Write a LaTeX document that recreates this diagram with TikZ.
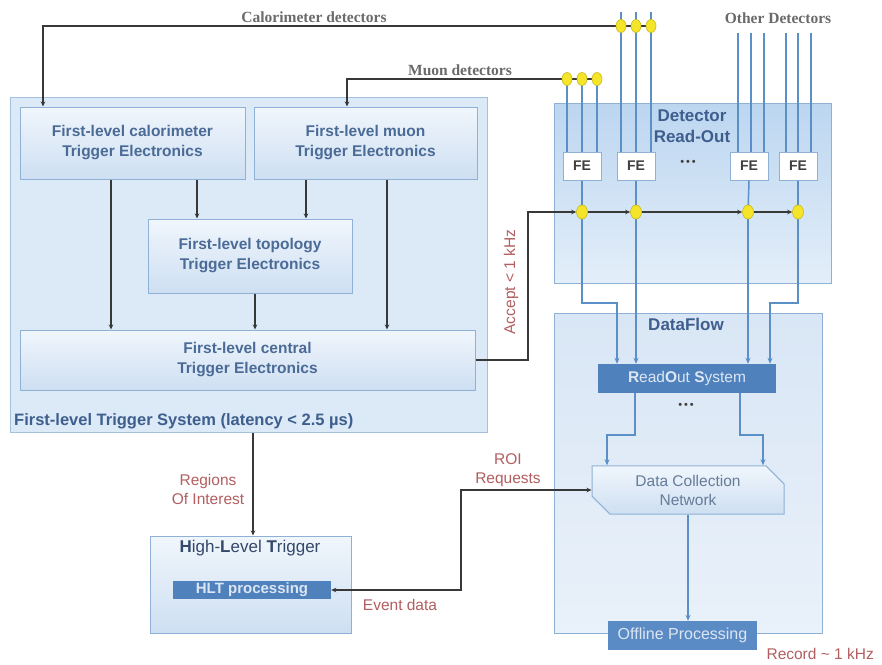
\documentclass[tikz,border=0pt]{standalone}
\usepackage{fontspec}
\setmainfont{Liberation Sans}
\newfontfamily\seriffont{Liberation Serif}
\usetikzlibrary{arrows.meta,shapes.geometric,shapes.misc}
\definecolor{boxline}{HTML}{8FB1D6}
\definecolor{boxtop}{HTML}{F0F6FC}
\definecolor{boxbot}{HTML}{CEDFF2}
\definecolor{outline}{HTML}{A3C0DF}
\definecolor{outerfill}{HTML}{DCE9F7}
\definecolor{drotop}{HTML}{BCD6F0}
\definecolor{drobot}{HTML}{E3EEF9}
\definecolor{dftop}{HTML}{D9E6F5}
\definecolor{dfbot}{HTML}{E9F1FA}
\definecolor{boxtext}{HTML}{4B6B97}
\definecolor{titleblue}{HTML}{3E5F8E}
\definecolor{darkblue}{HTML}{4F81BD}
\definecolor{offblue}{HTML}{5B8BC5}
\definecolor{lighttext}{HTML}{DCE6F3}
\definecolor{fetext}{HTML}{3F3F3F}
\definecolor{dotyellow}{HTML}{F5E52A}
\definecolor{dotedge}{HTML}{CDB816}
\definecolor{lineblack}{HTML}{383838}
\definecolor{lineblue}{HTML}{5A8FC8}
\definecolor{labelred}{HTML}{B35E60}
\definecolor{detgray}{HTML}{6A6A6A}
\definecolor{dcntext}{HTML}{667C99}
\definecolor{hlttext}{HTML}{34486A}
\begin{document}
\begin{tikzpicture}[x=1pt,y=-1pt,
  blk/.style={draw=boxline, line width=1pt, top color=boxtop, bottom color=boxbot,
    text=boxtext, font=\fontsize{15.5}{20}\selectfont\bfseries, align=center, inner sep=0pt},
  outerbox/.style={draw=outline, line width=1pt, inner sep=0pt},
  darkbox/.style={fill=darkblue, inner sep=0pt, text=lighttext},
  febox/.style={draw=boxline, fill=white, line width=1pt, minimum width=38pt,
    minimum height=28pt, inner sep=0pt, font=\fontsize{14}{15}\selectfont\bfseries, text=fetext},
  ydot/.style={ellipse, fill=dotyellow, draw=dotedge, line width=0.6pt,
    minimum width=10pt, minimum height=13pt, inner sep=0pt},
  kline/.style={line width=1.3pt, draw=lineblack},
  arr/.style={kline, -{Stealth[length=5pt,width=4.5pt]}},
  bline/.style={line width=1.5pt, draw=lineblue},
  barr/.style={bline, -{Stealth[length=6pt,width=5pt]}},
  lbl/.style={text=labelred, align=center, font=\fontsize{15.5}{19}\selectfont},
  det/.style={font=\seriffont\bfseries\fontsize{15.5}{16}\selectfont, text=detgray},
  ell/.style={font=\fontsize{11}{12}\selectfont, text=fetext}
]
\useasboundingbox[fill=white] (0,0) rectangle (882,664);

% ---------- outer boxes ----------
\node[outerbox, fill=outerfill, minimum width=477pt, minimum height=335pt] (fl) at (248.5,264.5) {};
\node[outerbox, draw=boxline, top color=drotop, bottom color=drobot, minimum width=277pt, minimum height=180pt] (dro) at (692.5,193) {};
\node[outerbox, draw=boxline, top color=dftop, bottom color=dfbot, minimum width=268pt, minimum height=320pt] (df) at (688,473) {};
\node[outerbox, draw=boxline, top color=boxtop, bottom color=boxbot, minimum width=201pt, minimum height=97pt] (hlt) at (250.5,584.5) {};

\node[anchor=west, text=titleblue, font=\fontsize{16.5}{18}\selectfont\bfseries, inner sep=0pt] (fltitle) at (14,421) {First-level Trigger System (latency < 2.5 µs)};
\node[text=titleblue, font=\fontsize{17}{21}\selectfont\bfseries, align=center] (drot) at (692,126) {Detector\\Read-Out};
\node[text=titleblue, font=\fontsize{17}{18}\selectfont\bfseries] (dft) at (686,324) {DataFlow};
\node[text=hlttext, font=\fontsize{17}{18}\selectfont] (hltt) at (250,548) {\textbf{H}igh-\textbf{L}evel \textbf{T}rigger};

% ---------- first-level boxes ----------
\node[blk, minimum width=225pt, minimum height=72pt] (cal) at (132.5,143) {First-level calorimeter\\Trigger Electronics};
\node[blk, minimum width=223pt, minimum height=72pt] (muon) at (365.5,143) {First-level muon\\Trigger Electronics};
\node[blk, minimum width=204pt, minimum height=74pt] (topo) at (250,256) {First-level topology\\Trigger Electronics};
\node[blk, minimum width=455pt, minimum height=60pt] (central) at (247.5,360) {First-level central\\Trigger Electronics};

\coordinate (x111) at (111,0);
\coordinate (x197) at (197,0);
\coordinate (x306) at (306,0);
\coordinate (x387) at (387,0);
\coordinate (x255) at (255,0);
\draw[arr] (cal.south -| x111) -- (central.north -| x111);
\draw[arr] (cal.south -| x197) -- (topo.north -| x197);
\draw[arr] (muon.south -| x306) -- (topo.north -| x306);
\draw[arr] (muon.south -| x387) -- (central.north -| x387);
\draw[arr] (topo.south -| x255) -- (central.north -| x255);

% ---------- detector read-out ----------
\node[febox] (fe1) at (582,166) {FE};
\node[febox] (fe2) at (636,166) {FE};
\node[febox] (fe3) at (749,166) {FE};
\node[febox] (fe4) at (798,166) {FE};
\node[ell] (dots1) at (688,163) {•\,•\,•};

% detector lines (blue)
\foreach \n/\x in {a/621,b/636,c/651}{\coordinate (ct\n) at (\x,12); \draw[bline] (ct\n) -- (ct\n |- fe2.north);}
\foreach \n/\x in {a/567,b/582,c/597}{\coordinate (mt\n) at (\x,79); \draw[bline] (mt\n) -- (mt\n |- fe1.north);}
\foreach \n/\x in {a/738,b/751,c/764}{\coordinate (ot\n) at (\x,33); \draw[bline] (ot\n) -- (ot\n |- fe3.north);}
\foreach \n/\x in {a/786,b/798,c/811}{\coordinate (pt\n) at (\x,33); \draw[bline] (pt\n) -- (pt\n |- fe4.north);}

% calorimeter and muon trunk lines
\coordinate (calturn) at (43,26);
\coordinate (muturn) at (347,79);
\draw[arr] (651,26) -- (calturn) -- (calturn |- cal.north);
\draw[arr] (597,79) -- (muturn) -- (muturn |- muon.north);
\node[ydot] (c1) at (621,26) {};
\node[ydot] (c2) at (636,26) {};
\node[ydot] (c3) at (651,26) {};
\node[ydot] (m1) at (567,79) {};
\node[ydot] (m2) at (582,79) {};
\node[ydot] (m3) at (597,79) {};
\node[det] (callbl) at (314,17) {Calorimeter detectors};
\node[det] (mulbl) at (460,70) {Muon detectors};
\node[det] (otlbl) at (778,18) {Other Detectors};

% readout system
\node[darkbox, minimum width=178pt, minimum height=29pt, font=\fontsize{15.5}{16}\selectfont] (ros) at (687,378.5) {\textbf{R}ead\textbf{O}ut \textbf{S}ystem};
\node[ell] (dots2) at (686,406) {•\,•\,•};

% FE outputs
\coordinate (y303) at (0,303);
\coordinate (x617) at (617,0);
\coordinate (x770) at (770,0);
\coordinate (jc1) at (582,212);
\coordinate (jc2) at (636,212);
\coordinate (jc3) at (748,212);
\coordinate (jc4) at (798,212);
\draw[bline] (fe1.south) -- (jc1);
\draw[bline] (fe2.south) -- (jc2);
\draw[bline] (fe3.south) -- (jc3);
\draw[bline] (fe4.south) -- (jc4);
\draw[barr] (jc1) -- (jc1 |- y303) -| (ros.north -| x617);
\draw[barr] (jc2) -- (ros.north -| jc2);
\draw[barr] (jc3) -- (ros.north -| jc3);
\draw[barr] (jc4) -- (jc4 |- y303) -| (ros.north -| x770);
\node[ydot, minimum width=11pt, minimum height=14pt] (j1) at (jc1) {};
\node[ydot, minimum width=11pt, minimum height=14pt] (j2) at (jc2) {};
\node[ydot, minimum width=11pt, minimum height=14pt] (j3) at (jc3) {};
\node[ydot, minimum width=11pt, minimum height=14pt] (j4) at (jc4) {};

% accept path
\coordinate (accx) at (528,0);
\draw[arr] (central.east) -- (central.east -| accx) |- (j1);
\draw[arr] (j1) -- (j2);
\draw[arr] (j2) -- (j3);
\draw[arr] (j3) -- (j4);
\node[lbl, rotate=90] (acclbl) at (511,282) {Accept < 1 kHz};

% data collection network
\node[chamfered rectangle, chamfered rectangle corners={north east,south west},
  chamfered rectangle xsep=9pt, chamfered rectangle ysep=9pt,
  draw=boxline, line width=1pt, top color=boxtop, bottom color=boxbot,
  minimum width=192pt, minimum height=47pt, inner sep=0pt, align=center,
  text=dcntext, font=\fontsize{15.5}{19}\selectfont] (dcn) at (688,490) {Data Collection\\Network};

\coordinate (x635) at (635,0);
\coordinate (x740) at (740,0);
\coordinate (x607) at (607,0);
\coordinate (x763) at (763,0);
\coordinate (y435) at (0,435);
\draw[barr] (ros.south -| x635) -- (x635 |- y435) -| (dcn.north -| x607);
\draw[barr] (ros.south -| x740) -- (x740 |- y435) -| (dcn.north -| x763);

\node[fill=offblue, minimum width=149pt, minimum height=29pt, inner sep=0pt, text=lighttext,
  font=\fontsize{16}{16}\selectfont] (off) at (682.5,635.5) {Offline Processing};
\draw[barr] (dcn.south) -- (dcn.south |- off.north);
\node[lbl, anchor=east, inner sep=0pt] (reclbl) at (874,654) {Record \textasciitilde{} 1 kHz};

% high-level trigger
\node[darkbox, minimum width=158pt, minimum height=18pt, font=\fontsize{15}{16}\selectfont\bfseries] (hltp) at (252,590) {HLT processing};
\coordinate (x253) at (253,0);
\draw[arr] (fl.south -| x253) -- (hlt.north -| x253);
\node[lbl] (roilbl) at (208,489) {Regions\\Of Interest};

\coordinate (x461) at (461,0);
\draw[kline, {Stealth[length=5pt,width=4.5pt]}-{Stealth[length=5pt,width=4.5pt]}] (hltp.east) -- (hltp.east -| x461) |- (dcn.west);
\node[lbl] (reqlbl) at (508,470) {ROI\\Requests};
\node[lbl] (evlbl) at (400,605) {Event data};
\end{tikzpicture}
\end{document}
